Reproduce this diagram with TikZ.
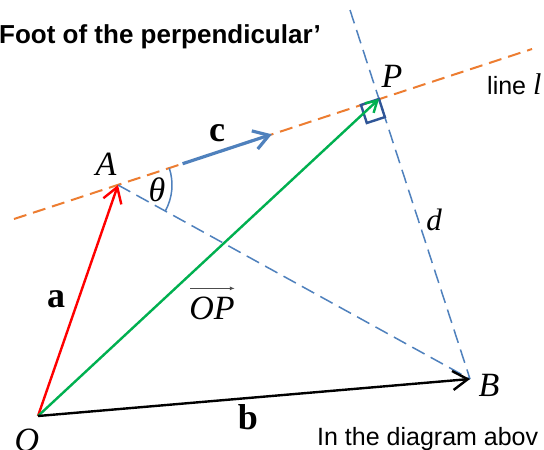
\documentclass[tikz,border=0pt]{standalone}
\usepackage{fontspec}
\setmainfont{Liberation Serif}
\setsansfont{Liberation Sans}
\usepackage{tikz}
\usetikzlibrary{calc,arrows.meta,positioning}
\definecolor{orgc}{HTML}{ED7D31}
\definecolor{bluc}{HTML}{4F81BD}
\definecolor{sqc}{HTML}{2F5597}
\definecolor{grnc}{HTML}{00B050}
\definecolor{redc}{HTML}{FF0000}
\tikzset{
  vec/.style={-{Straight Barb[length=15pt,width=19pt]},line width=2.4pt},
  lnl/.style={orgc,line width=2pt,dash pattern=on 13pt off 7pt},
  perp/.style={bluc,line width=1.5pt,dash pattern=on 14pt off 7pt},
  lbl/.style={inner sep=0pt,font=\fontsize{34}{40}\selectfont\itshape},
  bvec/.style={inner sep=0pt,font=\fontsize{36}{42}\selectfont\bfseries},
  txt/.style={inner sep=0pt,font=\fontsize{25}{30}\selectfont\sffamily}
}
\begin{document}
\begin{tikzpicture}[x=1pt,y=-1pt]
\useasboundingbox (0,0) rectangle (544,450);
\clip (0,0) rectangle (544,450);
\fill[white] (0,0) rectangle (544,450);
\coordinate (O) at (38,416);
\coordinate (A) at (118,185);
\coordinate (P) at (379,99);
\coordinate (B) at (470,379);
\coordinate (L1) at (14,219);
\coordinate (L2) at (532,49);
\coordinate (T) at (350,10);
\coordinate (c0) at ($(A)!68pt!(P)$);
\coordinate (c1) at ($(A)!162pt!(P)$);
\coordinate (q1) at ($(P)!19pt!(A)$);
\coordinate (q3) at ($(P)!19pt!(B)$);
\coordinate (q2) at ($(q1)+(q3)-(P)$);
\draw[lnl] (L1) -- (L2);
\draw[perp] (T) -- (B);
\draw[perp] (A) -- (B);
\draw[bluc,line width=1.5pt] ($(A)+(-18.2:54)$) arc[start angle=-18.2,end angle=28.9,radius=54];
\draw[sqc,line width=2.4pt,line join=miter] (P) -- (q1) -- (q2) -- (q3) -- cycle;
\draw[vec,bluc,line width=3.2pt] (c0) -- (c1);
\draw[vec,redc] (O) -- (A);
\draw[vec,grnc,-{Straight Barb[length=11pt,width=13pt]}] (O) -- (P);
\draw[vec,black] (O) -- (B);
\node[anchor=base west,inner sep=0pt,font=\fontsize{26}{31}\selectfont\sffamily\bfseries] (ttl) at (-1,43) {Foot of the perpendicular’};
\node[lbl] (lA) at (106,164) {A};
\node[lbl] (lP) at (392,76) {P};
\node[lbl] (lB) at (489,385) {B};
\node[lbl] (lO) at (27,440) {O};
\node[lbl] (lth) at (157,190) {θ};
\node[lbl,font=\fontsize{31}{36}\selectfont\itshape] (ld) at (434,220) {d};
\node[lbl] (lOP) at (212,308) {OP};
\draw[-{Latex[length=5pt,width=4pt]},black!70,line width=1pt] ([xshift=1pt,yshift=8pt]lOP.north west) -- ([yshift=8pt]lOP.north east);
\node[bvec] (la) at (56,299) {a};
\node[bvec] (lb) at (248,417) {b};
\node[bvec] (lc) at (217,133) {c};
\node[txt,anchor=base west] (line) at (487,94) {line {\rmfamily\itshape\fontsize{30}{34}\selectfont l}};
\node[txt,anchor=base west] (note) at (317,445) {In the diagram abov};
\end{tikzpicture}
\end{document}
